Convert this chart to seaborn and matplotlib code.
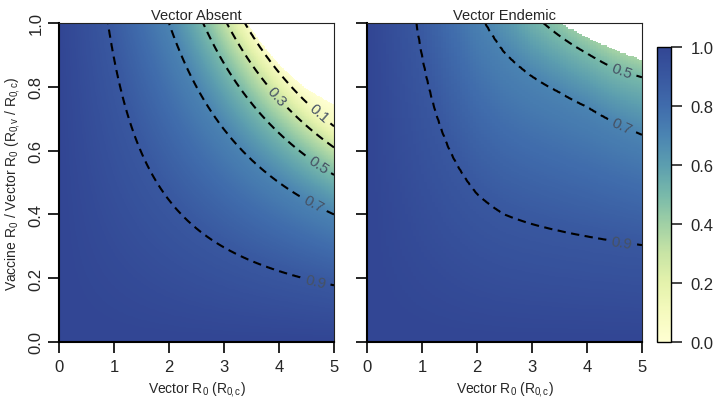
import numpy as np
import matplotlib
matplotlib.use("Agg")
import matplotlib.pyplot as plt
import seaborn as sns

sns.set_style("ticks")
plt.rcParams["font.family"] = ["Liberation Sans", "DejaVu Sans"]
plt.rcParams["mathtext.fontset"] = "custom"
plt.rcParams["mathtext.rm"] = "Liberation Sans"
plt.rcParams["mathtext.it"] = "Liberation Sans:italic"
plt.rcParams["mathtext.default"] = "regular"
plt.rcParams["lines.dashed_pattern"] = [4, 2.6]

col_x = [0, 0.5, 1.0, 1.5, 2.0, 2.5, 3.0, 3.5, 4.0, 4.5, 5.0]

# vaccine R0 (vector R0 * ratio) at which each level is reached, per column
absent_levels = [0.9, 0.7, 0.5, 0.3, 0.1, 0.0]
absent_c09 = [0.89, 0.89, 0.89, 0.89, 0.89, 0.89, 0.89, 0.89, 0.89, 0.89, 0.89]
absent_c07 = [2.00, 2.00, 2.00, 2.00, 2.00, 2.00, 2.00, 2.00, 2.00, 2.00, 2.00]
absent_c05 = [2.62, 2.62, 2.62, 2.62, 2.62, 2.62, 2.62, 2.62, 2.62, 2.62, 2.62]
absent_c03 = [3.05, 3.05, 3.05, 3.05, 3.05, 3.05, 3.05, 3.05, 3.05, 3.05, 3.05]
absent_c01 = [3.38, 3.38, 3.38, 3.38, 3.38, 3.38, 3.38, 3.38, 3.38, 3.38, 3.38]
absent_c00 = [3.44, 3.44, 3.44, 3.44, 3.44, 3.44, 3.44, 3.44, 3.49, 3.58, 3.73]

endemic_levels = [0.9, 0.7, 0.5, 0.3, 0.1]
endemic_c09 = [0.90, 0.90, 0.90, 0.905, 0.93, 1.00, 1.11, 1.22, 1.325, 1.425, 1.52]
endemic_c07 = [2.05, 2.05, 2.05, 2.05, 2.10, 2.27, 2.50, 2.74, 2.95, 3.10, 3.25]
endemic_c05 = [2.75, 2.75, 2.75, 2.75, 2.75, 2.95, 3.10, 3.36, 3.62, 3.86, 4.15]
endemic_c03 = [3.10, 3.10, 3.10, 3.10, 3.10, 3.35, 3.55, 3.85, 4.10, 4.35, 4.65]
endemic_c01 = [3.50, 3.50, 3.50, 3.50, 3.50, 3.75, 3.95, 4.25, 4.50, 4.75, 5.05]
endemic_cut = [9.00, 9.00, 9.00, 9.00, 9.00, 9.00, 9.00, 3.52, 3.83, 4.14, 4.43]

x_ticks = [0, 1, 2, 3, 4, 5]
y_ticks = [0.0, 0.2, 0.4, 0.6, 0.8, 1.0]
cbar_ticks = [0.0, 0.2, 0.4, 0.6, 0.8, 1.0]

cmap_colors = ["#FFFFD2", "#F5FABE", "#E4F2AC", "#C8E4A5", "#A0D0A5", "#78B9AA",
               "#5C9EAF", "#4B84B2", "#406CAC", "#3958A0", "#324694"]
cmap = sns.blend_palette(cmap_colors, as_cmap=True)
cmap.set_bad("white")


def build_field(cols, levels, cut, nx, ny):
    xs = np.linspace(0, 5, nx)
    ys = np.linspace(0, 1, ny)
    z = np.empty((ny, nx))
    for j, xv in enumerate(xs):
        knots = [0.0] + [np.interp(xv, col_x, c) for c in cols]
        vals = [1.0] + levels
        c = xv * ys
        col = np.interp(c, knots, vals)
        col[c > np.interp(xv, col_x, cut)] = np.nan
        z[:, j] = col
    return xs, ys, z


panels = [
    ("Vector Absent",
     build_field([absent_c09, absent_c07, absent_c05, absent_c03, absent_c01, absent_c00],
                 absent_levels, absent_c00, 400, 400),
     [0.1, 0.3, 0.5, 0.7, 0.9],
     [(4.71, 0.715), (3.96, 0.77), (4.71, 0.556), (4.62, 0.433), (4.66, 0.19)]),
    ("Vector Endemic",
     build_field([endemic_c09, endemic_c07, endemic_c05, endemic_c03, endemic_c01],
                 endemic_levels, endemic_cut, 101, 400),
     [0.5, 0.7, 0.9],
     [(4.63, 0.85), (4.65, 0.683), (4.63, 0.312)]),
]

fig = plt.figure(figsize=(7.25, 4.06), dpi=100)
ax_pos = [[0.0814, 0.1552, 0.3793, 0.7857], [0.5062, 0.1552, 0.3793, 0.7857]]

for k, (title, (xs, ys, z), lv, lab_pos) in enumerate(panels):
    ax = fig.add_axes(ax_pos[k])
    im = ax.imshow(z, origin="lower", extent=[0, 5, 0, 1], aspect="auto",
                   cmap=cmap, vmin=0, vmax=1, interpolation="nearest")
    cs = ax.contour(xs, ys, z, levels=lv, colors="black",
                    linestyles="dashed", linewidths=1.5)
    ax.clabel(cs, fmt="%.1f", inline=True, fontsize=11, colors="#465264",
              manual=lab_pos, inline_spacing=5)
    ax.set_xlim(0, 5)
    ax.set_ylim(0, 1)
    ax.set_xticks(x_ticks)
    ax.set_yticks(y_ticks)
    ax.set_xticklabels([str(t) for t in x_ticks])
    if k == 0:
        ax.set_yticklabels([f"{t:.1f}" for t in y_ticks])
        for lbl in ax.get_yticklabels():
            lbl.set_rotation(90)
            lbl.set_va("center")
        ax.set_ylabel(r"Vaccine R$_0$ / Vector R$_0$ (R$_{0\!,v}$ / R$_{0\!,c}$)",
                      fontsize=10, labelpad=5)
    else:
        ax.set_yticklabels([])
    ax.set_xlabel(r"Vector R$_0$ (R$_{0\!,c}$)", fontsize=10, labelpad=4)
    ax.set_title(title, fontsize=10.5, pad=3)
    ax.tick_params(direction="out", length=8, width=1.2, labelsize=12, color="black")
    ax.tick_params(axis="x", pad=4)
    ax.tick_params(axis="y", pad=3)
    for side in ["left", "bottom"]:
        ax.spines[side].set_linewidth(1.5)
        ax.spines[side].set_color("black")
    for side in ["top", "right"]:
        ax.spines[side].set_linewidth(0.8)
        ax.spines[side].set_color("#222222")

cax = fig.add_axes([0.9062, 0.1552, 0.0193, 0.7266])
cb = fig.colorbar(im, cax=cax, ticks=cbar_ticks)
cb.ax.set_yticklabels([f"{t:.1f}" for t in cbar_ticks])
cb.outline.set_linewidth(1.0)
cb.outline.set_edgecolor("black")
cax.tick_params(direction="out", length=8, width=1.2, labelsize=12, pad=6)

fig.savefig("out.png", dpi=100)
